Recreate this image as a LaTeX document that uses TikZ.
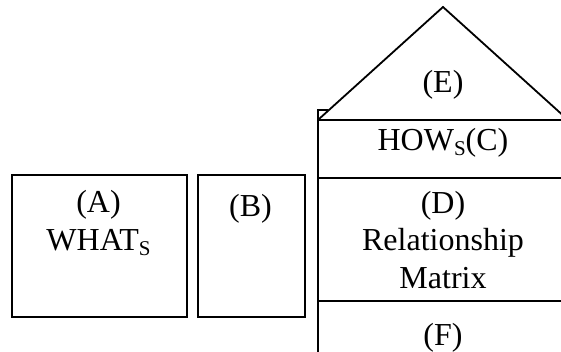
\documentclass[tikz,border=0pt]{standalone}
\usepackage{fontspec}
\setmainfont{Liberation Serif}
\newcommand{\subS}{{\fontsize{21}{21}\selectfont\raisebox{-5pt}{S}}}
\begin{document}
\begin{tikzpicture}[x=1pt,y=-1pt,
  ln/.style={line width=1.8pt, line cap=rect},
  boxnode/.style={draw, line width=1.8pt, inner sep=0pt, anchor=north west},
  lab/.style={font=\fontsize{32}{37.5}\selectfont, align=center, anchor=base, inner sep=0pt}]
\clip (0,0) rectangle (561,351);
\fill[white] (0,0) rectangle (561,351);
% left boxes
\node[boxnode, minimum width=175pt, minimum height=142pt] (boxA) at (11,174) {};
\node[boxnode, minimum width=107pt, minimum height=142pt] (boxB) at (197,174) {};
% right column
\draw[ln] (318,110) -- (327,110);
\draw[ln] (318,110) -- (318,360);
\draw[ln] (318,120) -- (570,120);
\draw[ln] (318,178) -- (570,178);
\draw[ln] (318,301) -- (570,301);
\draw[line width=1.8pt, line join=miter] (319,119) -- (443,7) -- (567,119);
% labels
\node[lab] (tA) at (98.5,250) {(A)\\WHAT\subS};
\node[lab] (tB) at (250.5,216.5) {(B)};
\node[lab] (tE) at (443,92) {(E)};
\node[lab] (tC) at (443,150) {HOW\subS(C)};
\node[lab] (tD) at (443,288) {(D)\\Relationship\\Matrix};
\node[lab] (tF) at (443,345) {(F)};
\end{tikzpicture}
\end{document}
